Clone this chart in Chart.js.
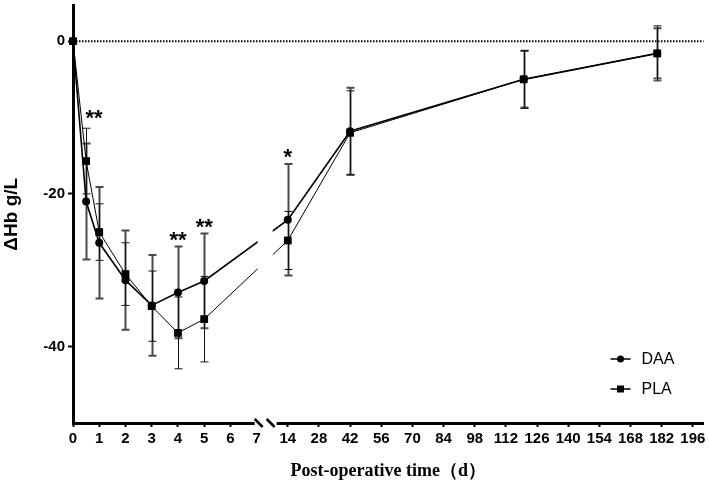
<!DOCTYPE html>
<html>
<head>
<meta charset="utf-8">
<script src="https://cdn.jsdelivr.net/npm/chart.js@4.4.1/dist/chart.umd.min.js"></script>
<style>
  html, body { margin: 0; padding: 0; background: #fff; }
  #wrap { width: 709px; height: 487px; position: relative; }
</style>
</head>
<body>
<div id="wrap"><canvas id="chart"></canvas></div>
<script>
// post-operative day of each measurement
const days = [0, 0.5, 1, 2, 3, 4, 5, 14, 42, 120, 180];

// change in haemoglobin, mean and SD (g/L)
const daaMean = [0, -21.0, -26.4, -31.3, -34.6, -32.9, -31.4, -23.4, -11.8, -5.0, -1.6];
const daaSD   = [0, 7.6, 7.3, 6.5, 6.6, 6.0, 6.2, 7.3, 5.7, 3.7, 3.3];
const plaMean = [0, -15.7, -25.0, -30.5, -34.7, -38.2, -36.4, -26.1, -12.0, -5.0, -1.6];
const plaSD   = [0, 4.3, 3.7, 4.1, 4.6, 4.7, 5.6, 3.8, 5.5, 3.8, 3.6];

// axis ticks
const xTickDays = [0, 1, 2, 3, 4, 5, 6, 7, 14, 28, 42, 56, 70, 84, 98, 112, 126, 140, 154, 168, 182, 196];
const yTicks = [-40, -20, 0];

// significance marks
const starText = ['**', '**', '**', '*'];
const starDay  = [0.8, 4, 5, 14];
const starY    = [-9.4, -25.3, -23.6, -14.5];

// broken x axis: days 0-7 linear, then 14-196 compressed
function u(d) {
  if (d <= 7) return d;
  return 8.186 + (d - 14) / 14 * 1.1875;
}

const SANS = '"Liberation Sans", Arial, sans-serif';
const SERIF = '"Liberation Serif", "Times New Roman", serif';

const series = [
  { mean: daaMean, sd: daaSD, color: '#4a4a4a', width: 2 },
  { mean: plaMean, sd: plaSD, color: '#111', width: 1 }
];

const decor = {
  id: 'decor',
  beforeDatasetsDraw(chart) {
    const { ctx, chartArea: a, scales: { x, y } } = chart;
    ctx.save();
    // zero line
    const y0 = y.getPixelForValue(0);
    ctx.setLineDash([1.5, 1.5]);
    ctx.lineWidth = 2;
    ctx.strokeStyle = '#000';
    ctx.beginPath();
    ctx.moveTo(a.left, y0);
    ctx.lineTo(a.right, y0);
    ctx.stroke();
    ctx.setLineDash([]);
    // error bars
    series.forEach(s => {
      ctx.strokeStyle = s.color;
      ctx.lineWidth = s.width;
      days.forEach((d, i) => {
        if (!s.sd[i]) return;
        const px = Math.round(x.getPixelForValue(u(d))) + 0.5;
        const t = y.getPixelForValue(s.mean[i] + s.sd[i]);
        const b = y.getPixelForValue(s.mean[i] - s.sd[i]);
        ctx.beginPath();
        ctx.moveTo(px, t); ctx.lineTo(px, b);
        ctx.moveTo(px - 4, t); ctx.lineTo(px + 4, t);
        ctx.moveTo(px - 4, b); ctx.lineTo(px + 4, b);
        ctx.stroke();
      });
    });
    ctx.restore();
  },
  afterDatasetsDraw(chart) {
    const { ctx, chartArea: a, scales: { x, y } } = chart;
    const p7 = x.getPixelForValue(7);
    ctx.save();
    // axis break gap
    ctx.fillStyle = '#fff';
    ctx.fillRect(p7 + 1, y.getPixelForValue(0) + 4, 15, a.bottom - y.getPixelForValue(0) - 8);
    ctx.fillRect(p7 - 2, a.bottom - 4, 22, 10);
    ctx.strokeStyle = '#000';
    ctx.lineWidth = 2.5;
    ctx.beginPath();
    ctx.moveTo(p7 - 2, a.bottom - 4); ctx.lineTo(p7 + 6, a.bottom + 4);
    ctx.moveTo(p7 + 10, a.bottom - 4); ctx.lineTo(p7 + 18, a.bottom + 4);
    ctx.stroke();
    // asterisks
    ctx.fillStyle = '#000';
    ctx.font = 'bold 22px ' + SANS;
    ctx.textAlign = 'center';
    ctx.textBaseline = 'alphabetic';
    starText.forEach((s, i) => {
      ctx.fillText(s, x.getPixelForValue(u(starDay[i])), y.getPixelForValue(starY[i]) + 12.5);
    });
    // legend
    const lx = a.right - 93;
    const names = ['DAA', 'PLA'];
    const styles = ['circle', 'rect'];
    names.forEach((n, i) => {
      const ly = a.bottom - 64 + i * 30;
      ctx.strokeStyle = '#000';
      ctx.lineWidth = 1.5;
      ctx.beginPath();
      ctx.moveTo(lx, ly); ctx.lineTo(lx + 20, ly);
      ctx.stroke();
      ctx.fillStyle = '#000';
      if (styles[i] === 'circle') {
        ctx.beginPath(); ctx.arc(lx + 10, ly, 3.5, 0, Math.PI * 2); ctx.fill();
      } else {
        ctx.fillRect(lx + 6.5, ly - 3.5, 7, 7);
      }
      ctx.font = '16px ' + SANS;
      ctx.textAlign = 'left';
      ctx.textBaseline = 'middle';
      ctx.fillText(n, lx + 31, ly + 1);
    });
    ctx.restore();
  }
};

new Chart(document.getElementById('chart'), {
  type: 'line',
  data: {
    datasets: [
      {
        label: 'DAA',
        data: days.map((d, i) => ({ x: u(d), y: daaMean[i] })),
        borderColor: '#000',
        backgroundColor: '#000',
        borderWidth: 1.6,
        pointStyle: 'circle',
        pointRadius: 4,
        pointBorderWidth: 0,
        order: 1,
        clip: false
      },
      {
        label: 'PLA',
        data: days.map((d, i) => ({ x: u(d), y: plaMean[i] })),
        borderColor: '#000',
        backgroundColor: '#000',
        borderWidth: 1,
        pointStyle: 'rect',
        pointRadius: 5.5,
        pointBorderWidth: 0,
        order: 0,
        clip: false
      }
    ]
  },
  options: {
    responsive: true,
    maintainAspectRatio: false,
    animation: false,
    events: [],
    layout: { padding: { left: 0, right: 4, top: 0, bottom: 0 } },
    plugins: { legend: { display: false }, tooltip: { enabled: false } },
    scales: {
      x: {
        type: 'linear',
        min: 0,
        max: 24.03,
        afterBuildTicks: s => { s.ticks = xTickDays.map(d => ({ value: u(d) })); },
        afterFit: s => { s.height = 64; s.paddingLeft = 0; s.paddingRight = 0; },
        ticks: {
          autoSkip: false,
          maxRotation: 0,
          padding: 3,
          color: '#000',
          font: { family: SANS, size: 15, weight: 'bold' },
          callback: (v, i) => xTickDays[i]
        },
        grid: { drawOnChartArea: false, tickLength: 4, tickWidth: 2, color: '#000' },
        border: { width: 3, color: '#000' },
        title: {
          display: true,
          text: 'Post-operative time（d）',
          color: '#000',
          padding: { top: 0, bottom: 5 },
          font: { family: SERIF, size: 18, weight: 'bold' }
        }
      },
      y: {
        min: -50,
        max: 4.67,
        afterBuildTicks: s => { s.ticks = yTicks.map(v => ({ value: v })); },
        afterFit: s => { s.width = 73; s.paddingTop = 0; s.paddingBottom = 0; },
        ticks: {
          padding: 3,
          color: '#000',
          font: { family: SANS, size: 15, weight: 'bold' }
        },
        grid: { drawOnChartArea: false, tickLength: 5, tickWidth: 2, color: '#000' },
        border: { width: 3, color: '#000' },
        title: {
          display: true,
          text: 'ΔHb g/L',
          color: '#000',
          padding: { top: 0, bottom: 0 },
          font: { family: SANS, size: 19, weight: 'bold' }
        }
      }
    }
  },
  plugins: [decor]
});
</script>
</body>
</html>
